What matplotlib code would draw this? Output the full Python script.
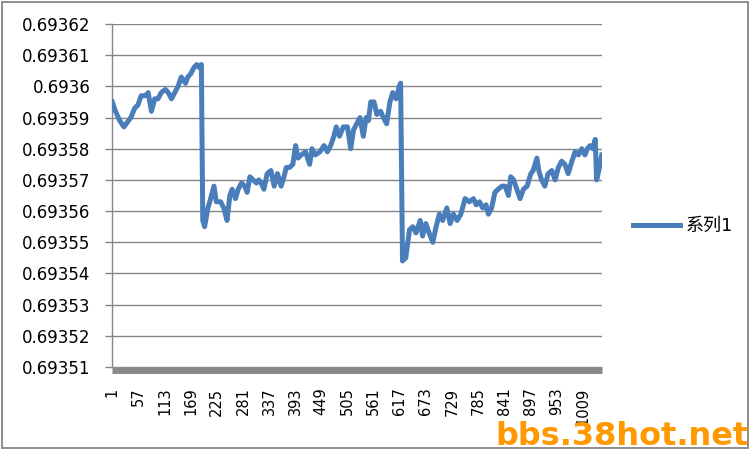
import matplotlib
matplotlib.use("Agg")
import matplotlib.pyplot as plt
from matplotlib.patches import Rectangle

plt.rcParams['font.family'] = ['DejaVu Sans', 'Noto Sans CJK SC']

# sample positions (category index) and values
idx = [1, 8, 17, 26, 31, 41, 49, 56, 63, 72,
       78, 85, 92, 99, 106, 115, 121, 128, 135, 142,
       149, 158, 163, 169, 176, 182, 188, 192, 195, 199,
       206, 210, 219, 224, 233, 240, 247, 253, 258, 265,
       271, 278, 285, 290, 296, 303, 310, 315, 320, 326,
       333, 341, 348, 355, 363, 369, 374, 381, 388, 394,
       399, 406, 415, 424, 429, 436, 446, 455, 462, 469,
       476, 481, 488, 496, 505, 512, 518, 525, 532, 539,
       545, 550, 555, 562, 568, 576, 582, 589, 596, 602,
       609, 616, 619, 623, 630, 638, 645, 652, 661, 666,
       673, 680, 688, 695, 702, 709, 718, 725, 732, 740,
       748, 757, 766, 775, 781, 788, 795, 802, 807, 814,
       821, 828, 836, 843, 850, 855, 861, 868, 875, 882,
       890, 898, 903, 911, 915, 921, 928, 935, 943, 950,
       957, 964, 971, 978, 986, 993, 1000, 1007, 1014, 1019,
       1025, 1031, 1036, 1039, 1045, 1050]

vals = [0.693595, 0.693592, 0.693589, 0.693587, 0.693588, 0.693590, 0.693593, 0.693594, 0.693597, 0.693597,
        0.693598, 0.693592, 0.693596, 0.693596, 0.693598, 0.693599, 0.693598, 0.693596, 0.693598, 0.693600,
        0.693603, 0.693601, 0.693603, 0.693604, 0.693606, 0.693607, 0.693606, 0.693607, 0.693557, 0.693555,
        0.693561, 0.693563, 0.693568, 0.693563, 0.693563, 0.693561, 0.693557, 0.693565, 0.693567, 0.693564,
        0.693567, 0.693569, 0.693568, 0.693566, 0.693571, 0.693570, 0.693569, 0.693570, 0.693569, 0.693567,
        0.693572, 0.693573, 0.693568, 0.693572, 0.693568, 0.693571, 0.693574, 0.693574, 0.693575, 0.693581,
        0.693577, 0.693578, 0.693579, 0.693575, 0.693580, 0.693578, 0.693579, 0.693581, 0.693579, 0.693581,
        0.693584, 0.693587, 0.693584, 0.693587, 0.693587, 0.693580, 0.693586, 0.693588, 0.693590, 0.693584,
        0.693590, 0.693589, 0.693595, 0.693595, 0.693591, 0.693592, 0.693590, 0.693588, 0.693595, 0.693598,
        0.693596, 0.693600, 0.693601, 0.693544, 0.693545, 0.693554, 0.693555, 0.693553, 0.693557, 0.693552,
        0.693556, 0.693553, 0.693550, 0.693555, 0.693559, 0.693557, 0.693561, 0.693556, 0.693559, 0.693557,
        0.693559, 0.693564, 0.693563, 0.693564, 0.693562, 0.693563, 0.693561, 0.693562, 0.693559, 0.693561,
        0.693566, 0.693567, 0.693568, 0.693568, 0.693565, 0.693571, 0.693570, 0.693567, 0.693564, 0.693567,
        0.693568, 0.693572, 0.693573, 0.693577, 0.693573, 0.693570, 0.693568, 0.693572, 0.693573, 0.693570,
        0.693574, 0.693576, 0.693575, 0.693572, 0.693576, 0.693579, 0.693578, 0.693580, 0.693578, 0.693580,
        0.693581, 0.693580, 0.693583, 0.693570, 0.693574, 0.693578]

n_points = 1050
xtick_pos = list(range(1, n_points, 56))
ytick_vals = [0.69351, 0.69352, 0.69353, 0.69354, 0.69355, 0.69356,
              0.69357, 0.69358, 0.69359, 0.6936, 0.69361, 0.69362]
series_name = "系列1"

fig = plt.figure(figsize=(7.53, 4.51), dpi=100)
ax = fig.add_axes([112 / 753, 1 - 367 / 451, 490 / 753, 343 / 451])

line, = ax.plot(idx, vals, color='#4A7EBB', lw=3.6, solid_joinstyle='round',
                label=series_name, zorder=3)

ax.set_xlim(0.5, n_points + 0.5)
ax.set_ylim(0.69351, 0.69362)

ax.set_yticks(ytick_vals)
ax.set_yticklabels(['%g' % v for v in ytick_vals])
ax.yaxis.grid(True, color='#868686', lw=1)
ax.tick_params(axis='y', length=5, width=1, color='#868686', pad=10.5,
               labelsize=12, labelcolor='black')

ax.set_xticks(xtick_pos)
ax.set_xticklabels([str(v) for v in xtick_pos])
ax.tick_params(axis='x', length=0, pad=13, labelsize=10.5, labelrotation=90)

for s in ['top', 'right']:
    ax.spines[s].set_visible(False)
ax.spines['left'].set_color('#868686')
ax.spines['left'].set_linewidth(1)
ax.spines['bottom'].set_color('#898989')
ax.spines['bottom'].set_linewidth(5)
ax.spines['bottom'].set_position(('outward', 1.8))
ax.spines['bottom'].set_capstyle('butt')

fig.legend(handles=[line], loc='center left', bbox_to_anchor=(633 / 753, 1 - 226 / 451),
           frameon=False, fontsize=13, handlelength=2.6, handletextpad=0.3,
           borderaxespad=0, borderpad=0)

fig.add_artist(Rectangle((2 / 753, 3 / 451), 746 / 753, 446 / 451, transform=fig.transFigure,
                         fill=False, ec='#868686', lw=1.3))

fig.text(495 / 753, 1 - 445 / 451, "bbs.38hot.net", color='#FF9900', fontsize=23,
         fontweight='heavy', ha='left', va='baseline')

fig.savefig("out.png", dpi=100)
